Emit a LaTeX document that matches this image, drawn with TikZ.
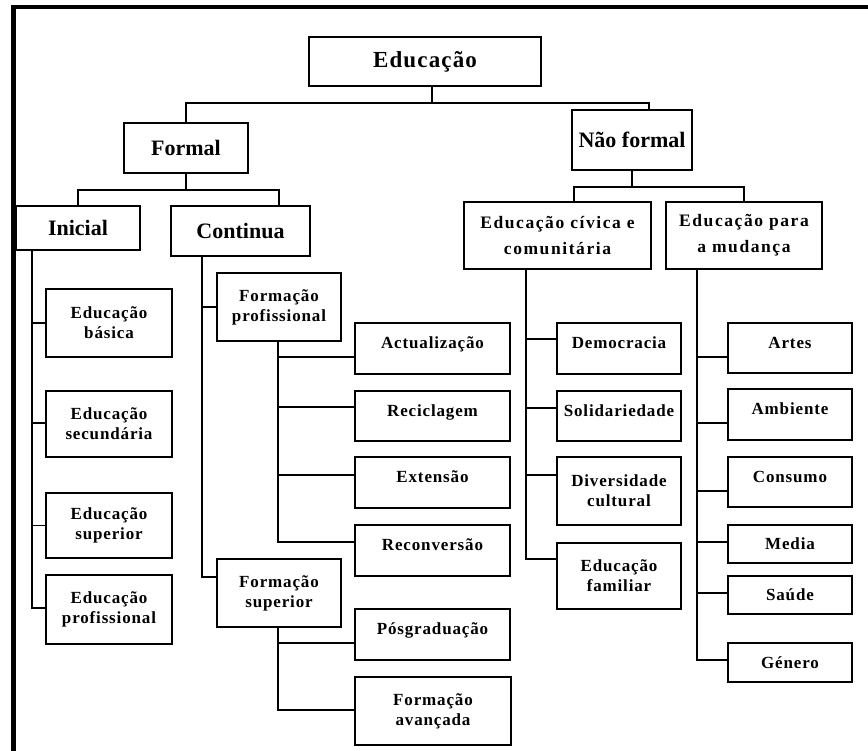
\documentclass[tikz,border=0pt]{standalone}
\usepackage{fontspec}
\setmainfont{Liberation Serif}
\newfontfamily\spacedfont[LetterSpace=5]{Liberation Serif}
\newfontfamily\widefont[LetterSpace=9]{Liberation Serif}
\begin{document}
\begin{tikzpicture}[x=1pt,y=-1pt,
  box/.style={draw, line width=1.6pt, inner sep=0pt, align=center},
  bigtxt/.style={font=\fontsize{22}{26}\selectfont\bfseries},
  toptxt/.style={font=\spacedfont\fontsize{23}{26}\selectfont\bfseries},
  smalltxt/.style={font=\spacedfont\fontsize{17}{20}\selectfont\bfseries},
  midtxt/.style={font=\widefont\fontsize{17.5}{26}\selectfont\bfseries},
  upshift/.style={text depth=11pt},
  conn/.style={line width=1.6pt},
  frame/.style={line width=4.5pt}]
\useasboundingbox (0,0) rectangle (868,751);
\fill[white] (0,0) rectangle (868,751);
\draw[frame] (13.5,751) -- (13.5,7) -- (868,7);

% top levels
\node[box,toptxt,minimum width=232pt,minimum height=49pt] (edu) at (425,61.5) {Educação};
\node[box,bigtxt,minimum width=124pt,minimum height=50pt] (formal) at (186,148) {Formal};
\node[box,bigtxt,minimum width=120pt,minimum height=60pt] (naof) at (632,140) {Não formal};
\node[box,bigtxt,minimum width=124pt,minimum height=44pt] (inicial) at (78,228) {Inicial};
\node[box,bigtxt,minimum width=139pt,minimum height=50pt] (continua) at (240.5,231) {Continua};
\node[box,midtxt,minimum width=187pt,minimum height=67pt] (civica) at (557.5,235.5) {Educação cívica e\\comunitária};
\node[box,midtxt,minimum width=156pt,minimum height=67pt] (mudanca) at (744,235.5) {Educação para\\a mudança};

% Inicial children
\node[box,smalltxt,minimum width=126pt,minimum height=68pt] (basica) at (109,323) {Educação\\básica};
\node[box,smalltxt,minimum width=126pt,minimum height=66pt] (secund) at (109,424) {Educação\\secundária};
\node[box,smalltxt,minimum width=126pt,minimum height=65pt] (superior) at (109,525.5) {Educação\\superior};
\node[box,smalltxt,minimum width=126pt,minimum height=69pt] (eprof) at (109,609.5) {Educação\\profissional};

% Continua children
\node[box,smalltxt,minimum width=124pt,minimum height=68pt] (fprof) at (279,307) {Formação\\profissional};
\node[box,smalltxt,minimum width=124pt,minimum height=68pt] (fsup) at (279,593) {Formação\\superior};
\node[box,smalltxt,upshift,minimum width=155pt,minimum height=51pt] (actual) at (432.5,348.5) {Actualização};
\node[box,smalltxt,upshift,minimum width=155pt,minimum height=50pt] (recicl) at (432.5,416) {Reciclagem};
\node[box,smalltxt,upshift,minimum width=155pt,minimum height=51pt] (extensao) at (432.5,482.5) {Extensão};
\node[box,smalltxt,upshift,minimum width=155pt,minimum height=51pt] (reconv) at (432.5,550.5) {Reconversão};
\node[box,smalltxt,upshift,minimum width=155pt,minimum height=51pt] (posgrad) at (432.5,634.5) {Pósgraduação};
\node[box,smalltxt,minimum width=156pt,minimum height=68pt] (favanc) at (433,711) {Formação\\avançada};

% civica children
\node[box,smalltxt,upshift,minimum width=124pt,minimum height=51pt] (democ) at (619,348.5) {Democracia};
\node[box,smalltxt,upshift,minimum width=124pt,minimum height=50pt] (solid) at (619,416) {Solidariedade};
\node[box,smalltxt,minimum width=124pt,minimum height=68pt] (divers) at (619,491) {Diversidade\\cultural};
\node[box,smalltxt,minimum width=124pt,minimum height=66pt] (efam) at (619,576) {Educação\\familiar};

% mudanca children
\node[box,smalltxt,upshift,minimum width=124pt,minimum height=50pt] (artes) at (790,348) {Artes};
\node[box,smalltxt,upshift,minimum width=124pt,minimum height=51pt] (ambiente) at (790,414.5) {Ambiente};
\node[box,smalltxt,upshift,minimum width=124pt,minimum height=50pt] (consumo) at (790,482) {Consumo};
\node[box,smalltxt,minimum width=124pt,minimum height=38pt] (media) at (790,544) {Media};
\node[box,smalltxt,minimum width=124pt,minimum height=38pt] (saude) at (790,595) {Saúde};
\node[box,smalltxt,minimum width=124pt,minimum height=39pt] (genero) at (790,662.5) {Género};

% junction coordinates
\coordinate (j0) at (432,103);
\coordinate (j1) at (186,190);
\coordinate (j2) at (632,187);
\coordinate (ti) at (32,250);
\coordinate (tc) at (202,256);
\coordinate (tfp) at (278,341);
\coordinate (tfs) at (278,627);
\coordinate (tcv) at (526,269);
\coordinate (tmu) at (697,269);

% top connectors
\draw[conn] ([xshift=7pt]edu.south) -- (j0);
\draw[conn] (formal.north) |- (j0) -| ([xshift=17pt]naof.north);
\draw[conn] (formal.south) -- (j1);
\draw[conn] (inicial.north) |- (j1) -| ([xshift=38.5pt]continua.north);
\draw[conn] (naof.south) -- (j2);
\draw[conn] ([xshift=16.5pt]civica.north) |- (j2) -| (mudanca.north);

% Inicial
\draw[conn] (ti) |- (basica.west);
\draw[conn] (ti) |- ([yshift=1pt]secund.west);
\draw[conn] (ti) |- (superior.west);
\draw[conn] (ti) |- ([yshift=1.5pt]eprof.west);

% Continua
\draw[conn] (tc) |- (fprof.west);
\draw[conn] (tc) |- ([yshift=16pt]fsup.west);
\draw[conn] (tfp) |- ([yshift=-8.5pt]actual.west);
\draw[conn] (tfp) |- ([yshift=9pt]recicl.west);
\draw[conn] (tfp) |- ([yshift=7.5pt]extensao.west);
\draw[conn] (tfp) |- ([yshift=8.5pt]reconv.west);
\draw[conn] (tfs) |- ([yshift=-8.5pt]posgrad.west);
\draw[conn] (tfs) |- ([yshift=1pt]favanc.west);

% civica
\draw[conn] (tcv) |- ([yshift=9.5pt]democ.west);
\draw[conn] (tcv) |- ([yshift=8pt]solid.west);
\draw[conn] (tcv) |- ([yshift=16pt]divers.west);
\draw[conn] (tcv) |- ([yshift=17pt]efam.west);

% mudanca
\draw[conn] (tmu) |- ([yshift=-9pt]artes.west);
\draw[conn] (tmu) |- ([yshift=-8.5pt]ambiente.west);
\draw[conn] (tmu) |- ([yshift=-9pt]consumo.west);
\draw[conn] (tmu) |- ([yshift=2pt]media.west);
\draw[conn] (tmu) |- ([yshift=2pt]saude.west);
\draw[conn] (tmu) |- ([yshift=2.5pt]genero.west);
\end{tikzpicture}
\end{document}
